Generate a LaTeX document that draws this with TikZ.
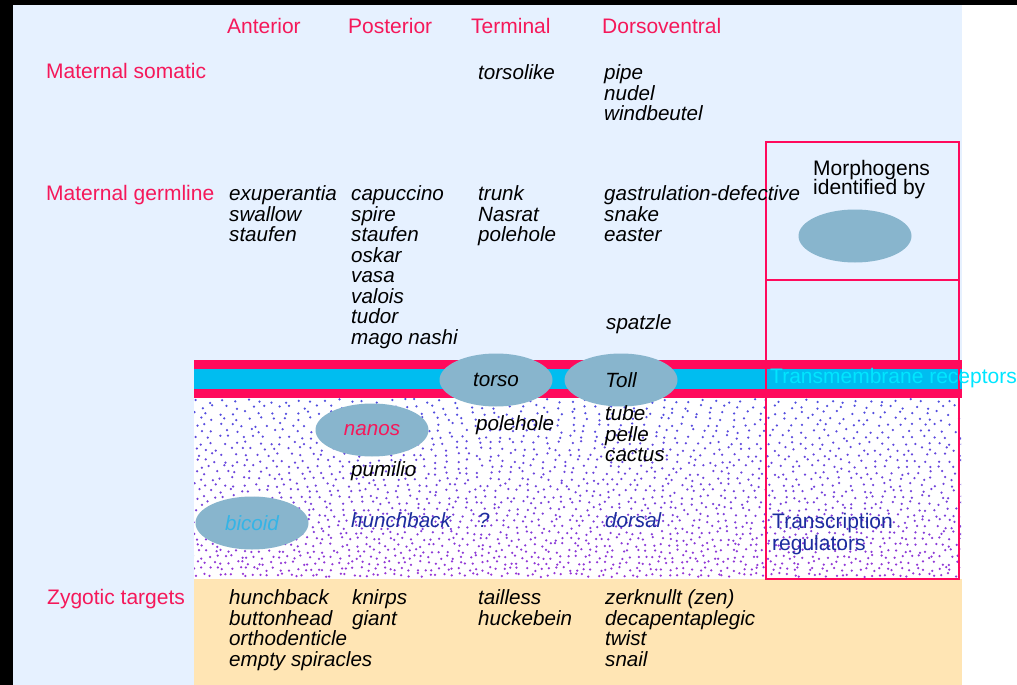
\documentclass[tikz,border=0pt]{standalone}
\usepackage{fontspec}
\setmainfont{Liberation Sans}
\usetikzlibrary{shapes.geometric,positioning}
\definecolor{FlyPanel}{HTML}{E6F1FF}
\definecolor{FlyPeach}{HTML}{FFE5B4}
\definecolor{FlyRed}{HTML}{F5185A}
\definecolor{FlyBand}{HTML}{FF0A5C}
\definecolor{FlyCyan}{HTML}{00BDF0}
\definecolor{FlyCyanText}{HTML}{00E6FF}
\definecolor{FlyOval}{HTML}{88B5CD}
\definecolor{FlyNavy}{HTML}{1C2C9E}
\definecolor{FlySky}{HTML}{35B4E6}
\definecolor{DotBlue}{HTML}{4F4FE0}
\definecolor{DotViolet}{HTML}{9636D6}
\tikzset{
  rowlabel/.style={anchor=base west, inner sep=0pt, text=FlyRed,
    font=\fontsize{21}{21}\selectfont},
  gene/.style={anchor=base west, inner sep=0pt,
    font=\fontsize{20.6}{20.5}\selectfont\itshape},
  genes/.style={anchor=north west, inner sep=0pt, align=left,
    font=\fontsize{20.6}{20.5}\selectfont\itshape, execute at begin node=\strut},
  note/.style={anchor=north west, inner sep=0pt, align=left,
    font=\fontsize{21}{21}\selectfont},
  oval/.style={ellipse, fill=FlyOval, minimum width=113pt, minimum height=53pt,
    inner sep=0pt, font=\fontsize{20.6}{20.5}\selectfont\itshape},
  frame/.style={draw=FlyBand, line width=2pt},
  dot/.style={fill=#1}
}
\begin{document}
\begin{tikzpicture}[x=1pt, y=-1pt]
  \useasboundingbox (0,0) rectangle (1017,685);
  % panels
  \fill[black] (0,0) rectangle (1017,685);
  \fill[white] (962,5) rectangle (1017,685);
  \fill[FlyPanel] (13,5) rectangle (962,685);
  % membrane
  \fill[FlyBand] (194,360) rectangle (962,398);
  \fill[FlyCyan] (194,369) rectangle (962,389);
  % cytoplasm
  \fill[white] (194,398) rectangle (962,579);
  \begin{scope}
    \clip (194,398) rectangle (961,578);
    \pgfmathsetseed{7}
    \foreach \r in {0,...,29}{
      \pgfmathsetmacro{\dy}{401+6*\r}
      \pgfmathsetmacro{\dx}{13-6*\r/29}
      \pgfmathtruncatemacro{\nd}{770/\dx}
      \pgfmathtruncatemacro{\mix}{100*\r/29}
      \foreach \c in {0,...,\nd}{
        \fill[dot=DotViolet!\mix!DotBlue]
          ({195+\c*\dx+mod(\r,2)*\dx/2+3*rand},{\dy+2*rand}) circle[radius=1.25pt];
      }
    }
  \end{scope}
  \fill[FlyPeach] (194,579) rectangle (962,685);
  % boxes on the right
  \draw[frame] (766,142) rectangle (959,280);
  \draw[frame] (766,280) rectangle (959,579);

  % column heads
  \node[rowlabel] (ant) at (227,34) {Anterior};
  \node[rowlabel] (post) at (348,34) {Posterior};
  \node[rowlabel] (term) at (471,34) {Terminal};
  \node[rowlabel] (dv) at (602,34) {Dorsoventral};

  % row labels
  \node[rowlabel] (somatic) at (46,78) {Maternal somatic};
  \node[rowlabel] (germline) at (46,200) {Maternal germline};
  \node[rowlabel] (zygotic) at (47,604) {Zygotic targets};

  % maternal somatic
  \node[gene] (torsolike) at (478,79) {torsolike};
  \node[genes] (dvsomatic) at (604,64.6) {pipe\\nudel\\windbeutel};

  % maternal germline
  \node[genes] (antgerm) at (229,185.6) {exuperantia\\swallow\\staufen};
  \node[genes] (postgerm) at (351,185.6) {capuccino\\spire\\staufen\\oskar\\vasa\\valois\\tudor\\mago nashi};
  \node[genes] (termgerm) at (478,185.6) {trunk\\Nasrat\\polehole};
  \node[genes] (dvgerm) at (604,185.6) {gastrulation-defective\\snake\\easter};
  \node[gene] (spatzle) at (606,329) {spatzle};

  % morphogen box
  \node[note] (morphtext) at (813,160) {Morphogens\\[-2pt]identified by};
  \node[oval] (morph) at (855,236) {};

  % receptors
  \node[oval] (torso) at (496,380) {torso};
  \node[oval] (toll) at (621,380) {Toll};
  \node[rowlabel, text=FlyCyanText] (receptors) at (770,383) {Transmembrane receptors};

  % cytoplasmic factors
  \node[oval, text=FlyRed] (nanos) at (372,430) {nanos};
  \node[gene] (polehole) at (476,430) {polehole};
  \node[genes] (dvcyto) at (605,405.6) {tube\\pelle\\cactus};
  \node[gene] (pumilio) at (351,476) {pumilio};

  % transcription regulators
  \node[oval, text=FlySky] (bicoid) at (252,523) {bicoid};
  \node[gene, text=FlyNavy] (hunchback) at (351,527) {hunchback};
  \node[gene, text=FlyNavy] (unknown) at (478,527) {?};
  \node[gene, text=FlyNavy] (dorsal) at (605,527) {dorsal};
  \node[note, text=FlyNavy] (regulators) at (772,513) {Transcription\\[1pt]regulators};

  % zygotic targets
  \node[genes] (antzyg) at (229,589.6) {hunchback\\buttonhead\\orthodenticle\\empty spiracles};
  \node[genes] (postzyg) at (352,589.6) {knirps\\giant};
  \node[genes] (termzyg) at (478,589.6) {tailless\\huckebein};
  \node[genes] (dvzyg) at (605,589.6) {zerknullt (zen)\\decapentaplegic\\twist\\snail};
\end{tikzpicture}
\end{document}
